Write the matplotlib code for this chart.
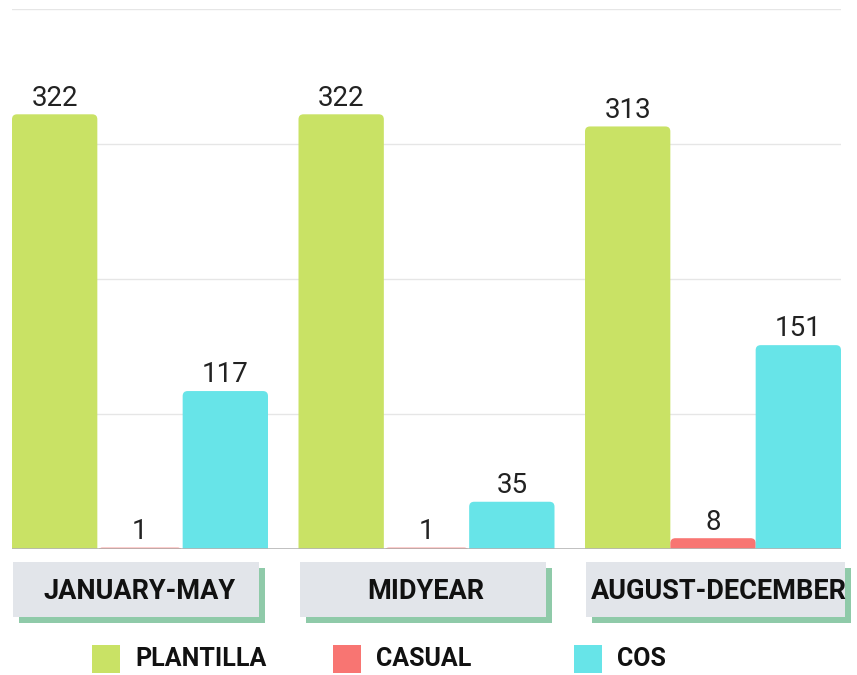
import numpy as np
from matplotlib import pyplot as plt
from matplotlib.patches import FancyBboxPatch, Rectangle
from matplotlib.transforms import blended_transform_factory

plt.rcParams['font.family'] = ['Roboto', 'DejaVu Sans']

periods = ["JANUARY-MAY", "MIDYEAR", "AUGUST-DECEMBER"]
series = ["PLANTILLA", "CASUAL", "COS"]
plantilla = [322, 322, 313]
casual = [1, 1, 8]
cos = [117, 35, 151]
colors = ["#c9e265", "#f87572", "#67e4e8"]

values = [plantilla, casual, cos]
n = len(series)
grp = 0.8935
w = grp / n
x = np.arange(len(periods))

fig = plt.figure(figsize=(8.57, 6.75), dpi=100)
ax = fig.add_axes([12/857, 126/675, 829/857, 540/675])
ax.set_xlim(-grp/2, len(periods) - 1 + grp/2)
ax.set_ylim(0, 400)

# px per data unit, for rounding the bar tops
px_x = 829 / (len(periods) - 1 + grp)
px_y = 540 / 400
r_px = 5

for i, (name, vals, c) in enumerate(zip(series, values, colors)):
    xs = x - grp/2 + w*i + w/2
    bars = ax.bar(xs, vals, width=w, color=c, label=name)
    for b in bars:
        b.set_visible(False)
        bx, bw, bh = b.get_x(), b.get_width(), b.get_height()
        r = r_px / px_x
        off = r_px / px_y
        p = FancyBboxPatch((bx, -off), bw, bh + off,
                           boxstyle=f"round,pad=0,rounding_size={r}",
                           mutation_aspect=px_x / px_y,
                           fc=c, ec="none", zorder=2)
        ax.add_patch(p)
        ax.text(bx + bw/2, bh + 2, str(int(bh)), ha="center", va="bottom",
                fontsize=20, color="#222222")

ax.set_yticks([100, 200, 300, 400])
ax.grid(axis="y", color="#e6e6e6", lw=1)
ax.set_axisbelow(True)
ax.axhline(0, color="#b5b5b5", lw=1.2, zorder=3)
for s in ax.spines.values():
    s.set_visible(False)
ax.tick_params(left=False, bottom=False, labelleft=False, labelbottom=False)

# category boxes with shadow
tr = blended_transform_factory(ax.transData, ax.transAxes)
box_w = [0.86, 0.86, 0.905]
top, bot = -13/540, -68/540
dx, dy = 6/px_x, 6/540
for xi, label, bwid in zip(x, periods, box_w):
    left = xi - grp/2 + 1/px_x
    ax.add_patch(Rectangle((left + dx, bot - dy), bwid, top - bot, transform=tr,
                           fc="#8fcaa9", ec="none", clip_on=False))
    ax.add_patch(Rectangle((left, bot), bwid, top - bot, transform=tr,
                           fc="#e2e5ea", ec="none", clip_on=False))
    ax.text(left + bwid/2 + 3/px_x, (top + bot)/2 - 2/540, label, transform=tr,
            ha="center", va="center", fontsize=19.5, fontweight="bold", color="#111111")

# legend
for i, (name, c) in enumerate(zip(series, colors)):
    lx = 92 + 241*i
    fig.add_artist(Rectangle((lx/857, (675-673)/675), 28/857, 28/675,
                             transform=fig.transFigure, fc=c, ec="none"))
    fig.text((lx + 43)/857, (675-659)/675, name, ha="left", va="center",
             fontsize=18, fontweight="bold", color="#111111")

fig.savefig("out.png", dpi=100)
